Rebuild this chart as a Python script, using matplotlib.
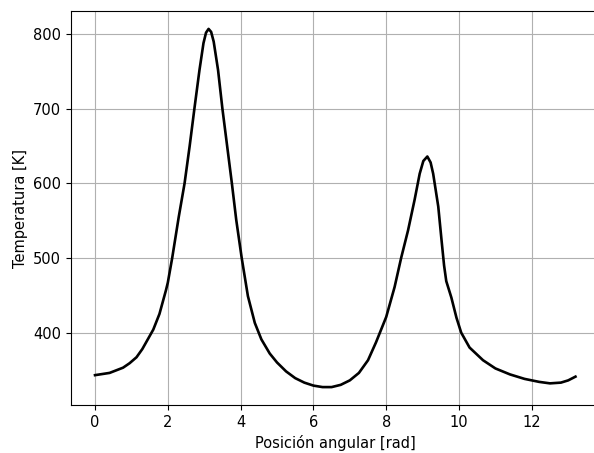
import matplotlib
matplotlib.use('Agg')
import matplotlib.pyplot as plt

# posición angular [rad] y temperatura [K]
theta = [0.0, 0.4, 0.77, 0.95, 1.14, 1.3, 1.45, 1.6, 1.77, 1.95, 2.0, 2.12,
         2.3, 2.46, 2.6, 2.73, 2.87, 2.98, 3.05, 3.12, 3.19, 3.26, 3.38,
         3.5, 3.63, 3.76, 3.88, 4.03, 4.2, 4.39, 4.57, 4.8, 5.0, 5.25, 5.5,
         5.75, 6.0, 6.25, 6.5, 6.75, 7.0, 7.25, 7.5, 7.72, 8.0, 8.23, 8.41,
         8.6, 8.78, 8.92, 9.02, 9.13, 9.22, 9.29, 9.43, 9.52, 9.59, 9.65,
         9.79, 9.93, 10.06, 10.29, 10.66, 11.0, 11.4, 11.8, 12.2, 12.5,
         12.8, 13.0, 13.2]
temp = [343, 346, 353, 359, 367, 378, 391, 404, 425, 457, 467, 500,
        555, 600, 650, 700, 752, 788, 802, 807, 803, 790, 752,
        700, 650, 600, 551, 500, 449, 413, 391, 372, 360, 348, 339,
        333, 329, 327, 327, 330, 336, 346, 363, 387, 421, 461, 500,
        537, 578, 613, 630, 636, 628, 613, 569, 524, 490, 469,
        447, 420, 400, 380, 363, 352, 344, 338, 334, 332,
        333, 336, 341]

fig = plt.figure(figsize=(5.94, 4.53), dpi=100)
ax = fig.add_axes([71/594, 48/453, (599.5-71)/594, (405-11)/453])

ax.plot(theta, temp, color='k', linewidth=1.9)
ax.grid(True, color='#b0b0b0', linewidth=0.8)

ax.set_xticks([0, 2, 4, 6, 8, 10, 12])
ax.set_yticks([400, 500, 600, 700, 800])
ax.tick_params(labelsize=10.5)

ax.set_xlabel('Posición angular [rad]', fontsize=10.5)
ax.set_ylabel('Temperatura [K]', fontsize=10.5)

fig.savefig('out.png', dpi=100)
